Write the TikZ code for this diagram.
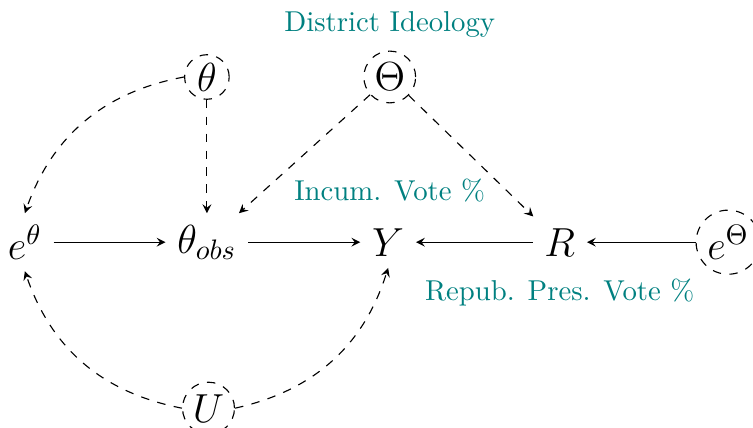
\documentclass[tikz,border=0pt]{standalone}
\usepackage{xcolor}
\usetikzlibrary{positioning}
\begin{document}
\begin{tikzpicture}[>=stealth]
      \tikzset{var/.style={font=\Large, inner sep=4pt},
               latent/.style={var, draw, circle, dashed, inner sep=1.3pt},
               lbl/.style={text=teal, font=\fontsize{10.2}{12}\selectfont}}
      \useasboundingbox (-0.31,-2.31) rectangle (9.08,3.02);
      \node[var] (eth) at (0,0) {$e^{\theta}$};
      \node[var] (thobs) at (2.27,0) {$\theta_{obs}$};
      \node[var] (Y) at (4.53,0) {$Y$};
      \node[var] (R) at (6.67,0) {$R$};
      \node[latent] (eTh) at (8.77,0) {$e^{\Theta}$};
      \node[latent] (theta) at (2.27,2.06) {$\theta$};
      \node[latent] (Theta) at (4.55,2.06) {$\Theta$};
      \node[latent] (U) at (2.29,-2.07) {$U$};
      \node[lbl] (dist) at (4.55,2.71) {District Ideology};
      \node[lbl] (incum) at (4.55,0.65) {Incum. Vote \%};
      \node[lbl] (repub) at (6.67,-0.63) {Repub. Pres. Vote \%};
      \draw[->] (eth) -- (thobs);
      \draw[->] (thobs) -- (Y);
      \draw[->] (R) -- (Y);
      \draw[->] (eTh) -- (R);
      \draw[dashed,->] (theta) -- (thobs);
      \draw[dashed,->] (Theta) -- (thobs);
      \draw[dashed,->] (Theta) -- (R);
      \draw[dashed,->] (theta.west) to[bend right=30] (eth.north);
      \draw[dashed,->] (U.west) to[bend left=30] (eth.south);
      \draw[dashed,->] (U.east) to[bend right=30] (Y.south);
    \end{tikzpicture}
\end{document}
